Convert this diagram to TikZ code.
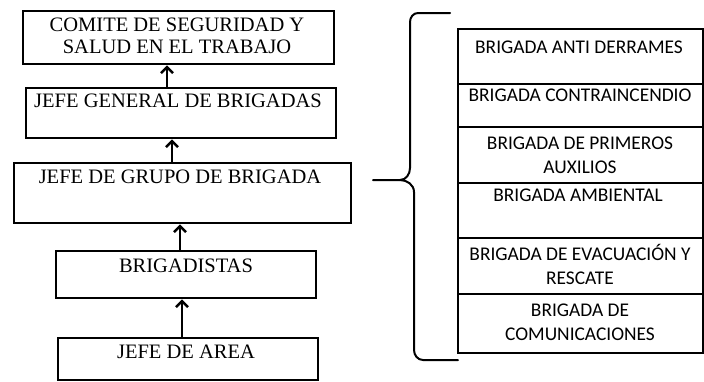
\documentclass[tikz,border=0pt]{standalone}
\usepackage{fontspec}
\setmainfont{Liberation Serif}
\newfontfamily\calib{Carlito}
\usetikzlibrary{arrows.meta}
\begin{document}
\begin{tikzpicture}[x=1pt,y=-1pt,
  lbox/.style={draw=black,line width=2.3pt,anchor=north west,inner sep=0pt},
  ltext/.style={inner sep=0pt,font=\fontsize{20.5}{22}\selectfont,align=center},
  rtext/.style={inner sep=0pt,font=\calib\fontsize{19.4}{24}\selectfont,align=center},
  arr/.style={line width=2.6pt,-{Straight Barb[length=6pt,width=12pt,line width=2.6pt]}},
  bracestyle/.style={line width=2pt,line join=round,line cap=round}]
\useasboundingbox (0,0) rectangle (704,381);
% left column boxes
\node[lbox,minimum width=311pt,minimum height=53pt] (b1) at (22,10) {};
\node[lbox,minimum width=310pt,minimum height=50pt] (b2) at (25,87) {};
\node[lbox,minimum width=337pt,minimum height=60pt] (b3) at (13,162) {};
\node[lbox,minimum width=260pt,minimum height=47pt] (b4) at (55,250) {};
\node[lbox,minimum width=260pt,minimum height=42pt] (b5) at (57,337) {};
\node[ltext] (t1) at (177,36) {COMITE DE SEGURIDAD Y\\SALUD EN EL TRABAJO};
\node[ltext] (t2) at (178,101) {JEFE GENERAL DE BRIGADAS};
\node[ltext] (t3) at (180,177) {JEFE DE GRUPO DE BRIGADA};
\node[ltext] (t4) at (186,266) {BRIGADISTAS};
\node[ltext] (t5) at (186,352) {JEFE DE AREA};
% arrows
\draw[arr] (b2.north -| 167,0) -- (b1.south -| 167,0);
\draw[arr] (b3.north -| 172,0) -- (b2.south -| 172,0);
\draw[arr] (b4.north -| 180,0) -- (b3.south -| 180,0);
\draw[arr] (b5.north -| 182,0) -- (b4.south -| 182,0);
% right column
\node[lbox,minimum width=245pt,minimum height=55pt] (r1) at (457,28) {};
\node[lbox,minimum width=245pt,minimum height=43pt] (r2) at (457,83) {};
\node[lbox,minimum width=245pt,minimum height=56pt] (r3) at (457,126) {};
\node[lbox,minimum width=245pt,minimum height=55pt] (r4) at (457,182) {};
\node[lbox,minimum width=245pt,minimum height=56pt] (r5) at (457,237) {};
\node[lbox,minimum width=245pt,minimum height=59pt] (r6) at (457,293) {};
\node[rtext] (s1) at (579,47) {BRIGADA ANTI DERRAMES};
\node[rtext] (s2) at (580,95) {BRIGADA CONTRAINCENDIO};
\node[rtext] (s3) at (580,155) {BRIGADA DE PRIMEROS\\AUXILIOS};
\node[rtext] (s4) at (578,195) {BRIGADA AMBIENTAL};
\node[rtext] (s5) at (580,264) {BRIGADA DE EVACUACIÓN Y\\RESCATE};
\node[rtext] (s6) at (580,322) {BRIGADA DE\\COMUNICACIONES};
% brace
\coordinate (btop) at (450,13);
\coordinate (bcusp) at (373,180);
\coordinate (bbot) at (458,360);
\draw[bracestyle] (btop) -- (418,13) to[out=180,in=90] (410,22) -- (410,168)
  to[out=-90,in=0] (400,180) -- (bcusp);
\draw[bracestyle] (400,180) to[out=0,in=90] (414,192) -- (414,350)
  to[out=-90,in=180] (423,360) -- (bbot);
\end{tikzpicture}
\end{document}
